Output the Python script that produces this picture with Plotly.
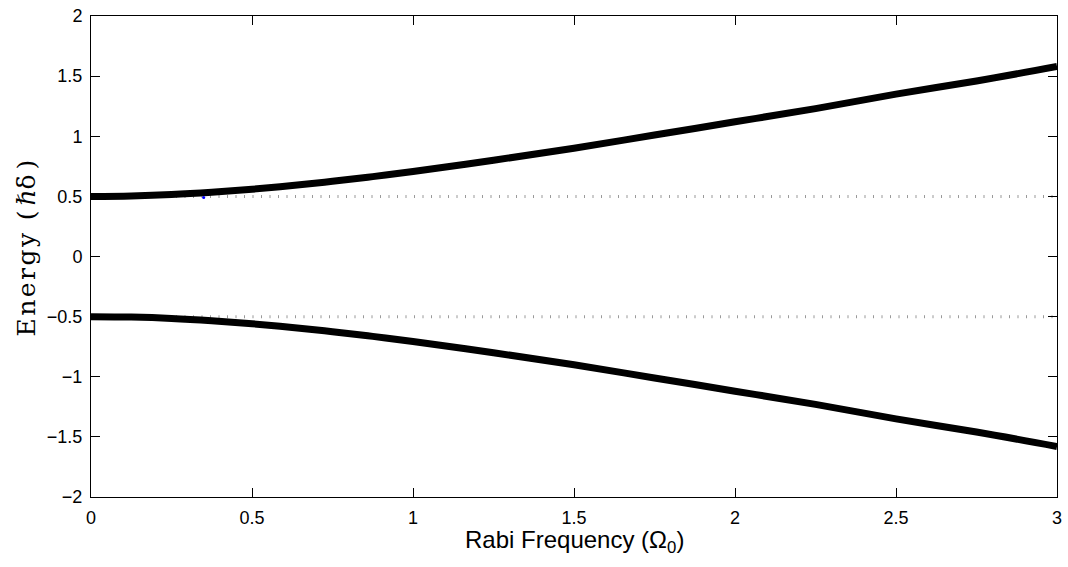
import plotly.graph_objects as go

# Rabi frequency (Omega_0) sample points
omega = [0.0, 0.125, 0.25, 0.375, 0.5, 0.625, 0.75, 0.875, 1.0, 1.25, 1.5, 1.75, 2.0, 2.25, 2.5, 2.75, 3.0]
# Upper dressed-state energy (hbar*delta)
e_upper = [0.50, 0.504, 0.515, 0.534, 0.559, 0.590, 0.625, 0.664, 0.707, 0.80, 0.90, 1.01, 1.12, 1.23, 1.35, 1.46, 1.58]
# Lower dressed-state energy (hbar*delta)
e_lower = [-0.50, -0.504, -0.515, -0.534, -0.559, -0.590, -0.625, -0.664, -0.707, -0.80, -0.90, -1.01, -1.12, -1.23, -1.35, -1.46, -1.58]
# Bare-state reference levels
bare_x = [0.0, 3.0]
bare_hi = [0.5, 0.5]
bare_lo = [-0.5, -0.5]
# small blue point
blue_x = [0.35]
blue_y = [0.49]

xticks = [0, 0.5, 1, 1.5, 2, 2.5, 3]
yticks = [-2, -1.5, -1, -0.5, 0, 0.5, 1, 1.5, 2]

fig = go.Figure()
for yy in (bare_hi, bare_lo):
    fig.add_trace(go.Scatter(x=bare_x, y=yy, mode="lines",
                             line=dict(color="#9a9a9a", width=3, dash="1px,7.5px"),
                             hoverinfo="skip", showlegend=False))
for yy in (e_upper, e_lower):
    fig.add_trace(go.Scatter(x=omega, y=yy, mode="lines",
                             line=dict(color="black", width=7, shape="spline"),
                             showlegend=False))
fig.add_trace(go.Scatter(x=blue_x, y=blue_y, mode="markers",
                         marker=dict(color="blue", size=3), showlegend=False))

axis_common = dict(showgrid=False, zeroline=False, showline=True, linecolor="black",
                   linewidth=1, mirror="ticks", ticks="inside", ticklen=9,
                   tickcolor="black", ticklabelstandoff=4,
                   tickfont=dict(family="Liberation Sans, Arial", size=18, color="black"))
fig.update_xaxes(range=[0, 3], tickvals=xticks, ticktext=[str(v) for v in xticks], **axis_common)
fig.update_yaxes(range=[-2, 2], tickvals=yticks, **axis_common)

fig.add_annotation(text="Rabi Frequency (Ω<sub>0</sub>)", xref="paper", yref="paper",
                   x=0.5, y=0, yanchor="top", yshift=-27, showarrow=False,
                   font=dict(family="Liberation Sans, Arial", size=24, color="black"))
fig.add_annotation(text="E\u200an\u200ae\u200ar\u200ag\u200ay\u2002(\u2009ℏδ\u2009)", xref="paper", yref="paper",
                   x=0, y=0.5, xanchor="center", yanchor="middle", xshift=-65, yshift=8,
                   textangle=-90, showarrow=False,
                   font=dict(family="DejaVu Serif, Liberation Serif", size=25, color="black"))

fig.update_layout(width=1068, height=567, margin=dict(l=91, r=6, t=10, b=70),
                  paper_bgcolor="white", plot_bgcolor="white")
fig.write_html("out.html")
